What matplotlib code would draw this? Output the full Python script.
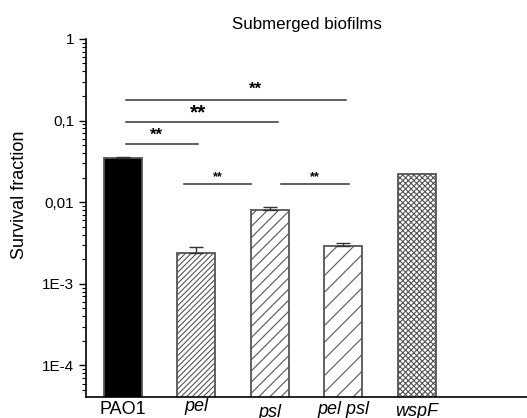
import numpy as np
import matplotlib
matplotlib.use("Agg")
import matplotlib.pyplot as plt
import matplotlib.transforms as mtransforms

# ================================
# Dados
# ================================

strains = ["PAO1", "pel", "psl", "pel psl", "wspF"]
survival = [0.0347, 0.0024, 0.0081, 0.0029, 0.022]
err_up = [0.0006, 0.0004, 0.0007, 0.0003, 0.0]

# comparações: (x inicial, x final, nível, texto)
comparisons = [
    (1.04, 2.02, 0.0515, "**"),
    (1.05, 3.11, 0.096, "**"),
    (1.04, 4.04, 0.178, "**"),
    (1.83, 2.75, 0.0166, "**"),
    (3.16, 4.08, 0.0166, "**"),
]

# ================================
# Estilo
# ================================

plt.rcParams['font.family'] = ['Liberation Sans', 'DejaVu Sans']
plt.rcParams['hatch.linewidth'] = 0.8
plt.rcParams['hatch.color'] = '#444444'

fills = ['black', 'white', 'white', 'white', 'white']
hatches = [None, '//////', '///', '//', 'xxxxxx']
star_sizes = [12, 15, 12, 9, 9]
star_offsets = [(-0.07, 0.02), (-0.05, 0.0), (0.27, 0.04), (0.0, 0.01), (0.0, 0.015)]
label_shift = [0, 2, -2, 0, -1.5]   # deslocamento vertical dos rótulos (pt)

fig = plt.figure(figsize=(5.27, 4.18), dpi=100)
ax = fig.add_axes([0.163, 0.050, 0.837, 0.857])

x = np.arange(1, len(strains) + 1)
for i in range(len(strains)):
    ax.bar(x[i], survival[i], width=0.52, color=fills[i], edgecolor='#555555',
           linewidth=1.3, hatch=hatches[i], zorder=2)
    if err_up[i] > 0:
        ax.errorbar(x[i], survival[i], yerr=[[0], [err_up[i]]], fmt='none',
                    ecolor='#333333', elinewidth=1, capsize=5, capthick=1, zorder=3)

ax.set_yscale('log')
ax.set_ylim(4.1e-5, 1)
ax.set_xlim(0.5, 6.5)

ax.set_yticks([1e-4, 1e-3, 1e-2, 1e-1, 1])
ax.set_yticklabels(["1E-4", "1E-3", "0,01", "0,1", "1"], fontsize=11)
ax.tick_params(axis='y', which='major', direction='out', length=5, width=1)
ax.tick_params(axis='y', which='minor', direction='out', length=3, width=0.8)

ax.set_xticks(x)
ax.set_xticklabels(strains, fontsize=13)
ax.tick_params(axis='x', length=0, pad=3)
for i, lab in enumerate(ax.get_xticklabels()):
    if i > 0:
        lab.set_style('italic')
    lab.set_transform(lab.get_transform() +
                      mtransforms.ScaledTranslation(0, label_shift[i] / 72, fig.dpi_scale_trans))

ax.spines['top'].set_visible(False)
ax.spines['right'].set_visible(False)
ax.spines['left'].set_linewidth(1.2)
ax.spines['bottom'].set_linewidth(1.2)

for k, (x1, x2, level, txt) in enumerate(comparisons):
    ax.plot([x1, x2], [level, level], color='#333333', lw=1.1, zorder=3)
    dx, dy = star_offsets[k]
    ax.text((x1 + x2) / 2 + dx, level * 10 ** dy, txt, ha='center', va='bottom',
            fontsize=star_sizes[k], fontweight='bold')

ax.set_ylabel("Survival fraction", fontsize=13)
ax.yaxis.set_label_coords(-0.132, 0.564)
ax.set_title("Submerged biofilms", fontsize=12.2, pad=7)

fig.savefig("out.png", dpi=100)
